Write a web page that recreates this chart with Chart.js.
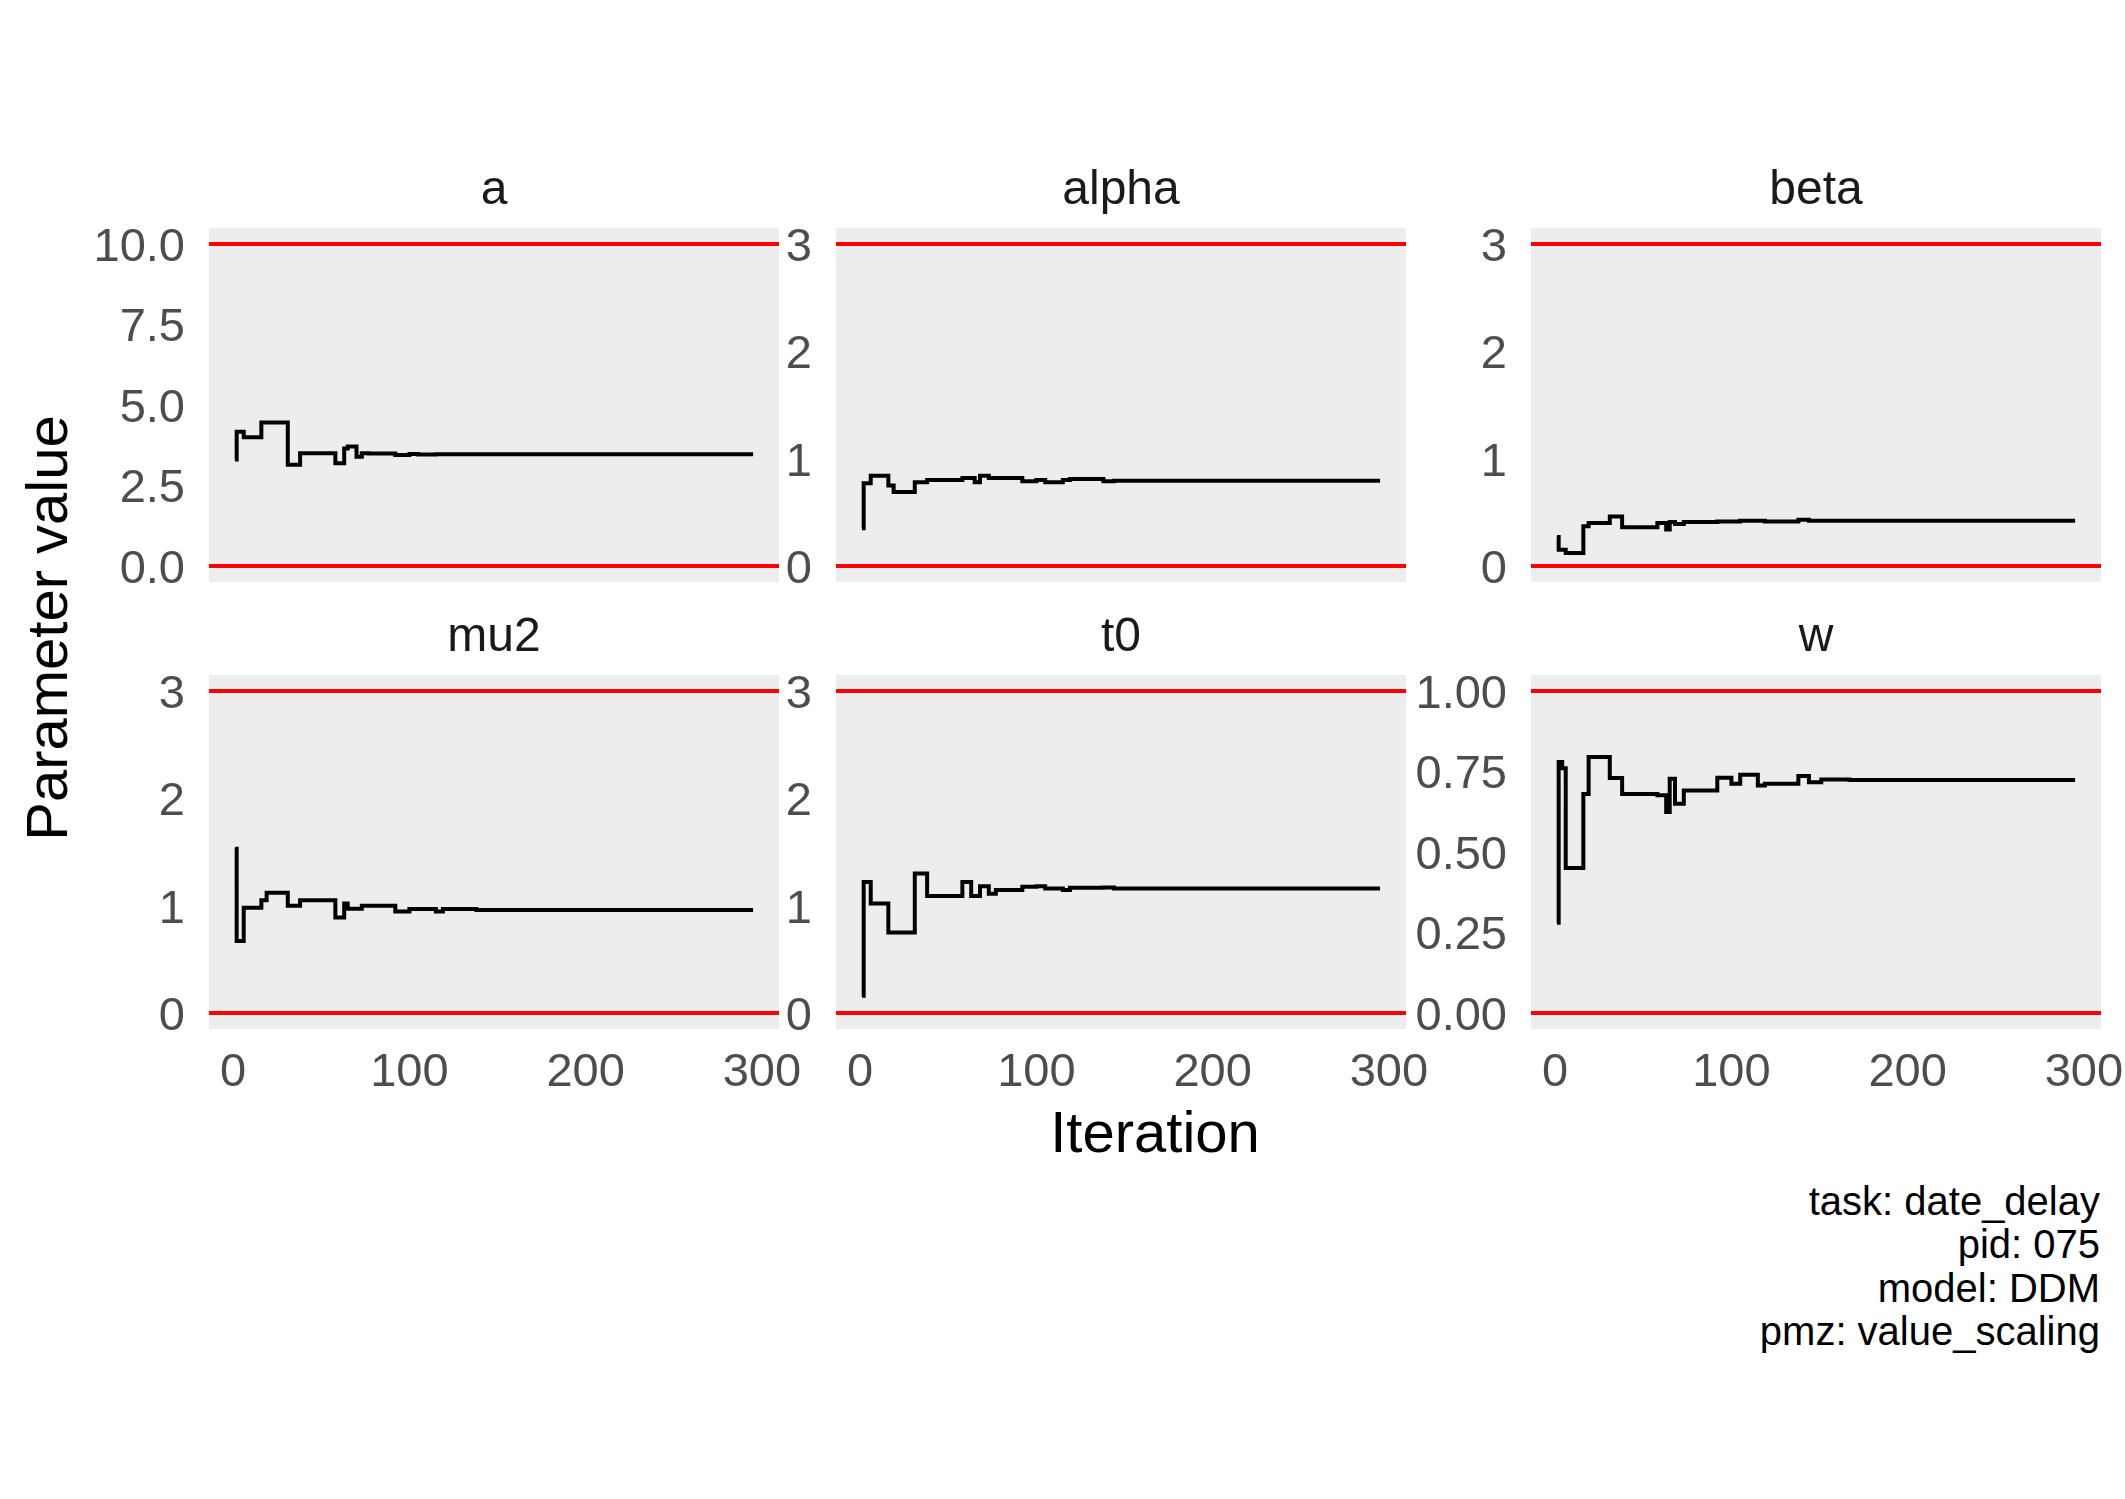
<!DOCTYPE html>
<html>
<head>
<meta charset="utf-8">
<script src="https://cdn.jsdelivr.net/npm/chart.js@4.4.1/dist/chart.umd.min.js"></script>
<style>
  html, body { margin: 0; padding: 0; background: #fff; }
  body { width: 2125px; height: 1499px; position: relative; overflow: hidden; font-family: 'Liberation Sans', Arial, sans-serif; }
  canvas { position: absolute; }
  .lbl { position: absolute; color: #000; white-space: nowrap; }
  #ylab { left: 47px; top: 628px; font-size: 58px; line-height: 58px; transform: translate(-50%, -50%) rotate(-90deg); }
  #xlab { left: 1155px; top: 1132px; font-size: 58px; line-height: 58px; transform: translate(-50%, -50%); }
  #caption { right: 25px; top: 1180px; font-size: 40px; line-height: 43.3px; text-align: right; white-space: pre; }
</style>
</head>
<body>
<div class="lbl" id="ylab">Parameter value</div>
<div class="lbl" id="xlab">Iteration</div>
<div class="lbl" id="caption">task: date_delay
pid: 075
model: DDM
pmz: value_scaling</div>
<script>
// iterations where the estimates change (value holds until the next one)
const iterations = [1, 2, 4, 6, 16, 19, 31, 38, 58, 63, 65, 68, 70, 73, 77, 92, 100, 105, 115, 119, 138, 144, 151, 167, 295];

const aValues     = [3.31, 4.17, 4.17, 4.00, 4.46, 4.46, 3.14, 3.50, 3.19, 3.65, 3.71, 3.71, 3.39, 3.50, 3.49, 3.45, 3.48, 3.46, 3.47, 3.47, 3.47, 3.47, 3.47, 3.47, 3.47];
const alphaValues = [0.35, 0.77, 0.77, 0.84, 0.75, 0.69, 0.78, 0.80, 0.82, 0.82, 0.78, 0.84, 0.84, 0.82, 0.82, 0.79, 0.80, 0.78, 0.80, 0.81, 0.79, 0.795, 0.795, 0.795, 0.795];
const betaValues  = [0.27, 0.15, 0.15, 0.12, 0.37, 0.40, 0.46, 0.36, 0.40, 0.34, 0.41, 0.39, 0.39, 0.41, 0.41, 0.415, 0.415, 0.42, 0.42, 0.415, 0.43, 0.42, 0.42, 0.42, 0.42];
const mu2Values   = [1.53, 0.67, 0.67, 0.98, 1.05, 1.12, 1.00, 1.05, 0.89, 1.02, 0.97, 0.97, 0.97, 1.00, 1.00, 0.946, 0.968, 0.968, 0.946, 0.968, 0.96, 0.959, 0.959, 0.959, 0.959];
const t0Values    = [0.16, 1.22, 1.22, 1.02, 0.75, 0.75, 1.30, 1.09, 1.22, 1.09, 1.09, 1.18, 1.18, 1.11, 1.145, 1.175, 1.18, 1.16, 1.145, 1.166, 1.17, 1.16, 1.16, 1.16, 1.16];
const wValues     = [0.28, 0.78, 0.76, 0.45, 0.68, 0.795, 0.73, 0.68, 0.676, 0.624, 0.728, 0.65, 0.65, 0.691, 0.691, 0.731, 0.712, 0.74, 0.707, 0.712, 0.736, 0.717, 0.725, 0.724, 0.724];

const paramNames  = ['a', 'alpha', 'beta', 'mu2', 't0', 'w'];
const paramValues = [aValues, alphaValues, betaValues, mu2Values, t0Values, wValues];
const upperBounds = [10, 3, 3, 3, 3, 1];

const xTicks = [0, 100, 200, 300];
const yTicks = [
  [0, 2.5, 5, 7.5, 10],
  [0, 1, 2, 3],
  [0, 1, 2, 3],
  [0, 1, 2, 3],
  [0, 1, 2, 3],
  [0, 0.25, 0.5, 0.75, 1]
];
const yDecimals = [1, 0, 0, 0, 0, 2];

// layout
const PANEL_LEFT = [209, 836, 1531];
const PANEL_TOP = [228, 675];
const PANEL_W = 570, PANEL_H = 354;
const AXIS_W = 130, TITLE_H = 75, XAXIS_H = 100, RIGHT_PAD = 50, BOTTOM_PAD = 70;

Chart.defaults.font.family = "'Liberation Sans', Arial, sans-serif";

const xSpan = iterations[iterations.length - 1] - iterations[0];
const xMin = iterations[0] - 0.05 * xSpan;
const xMax = iterations[iterations.length - 1] + 0.05 * xSpan;

const panelBg = {
  id: 'panelBg',
  beforeDraw(chart) {
    const { ctx, chartArea: a } = chart;
    ctx.save();
    ctx.fillStyle = '#ededed';
    ctx.fillRect(a.left, a.top, a.right - a.left, a.bottom - a.top);
    ctx.restore();
  }
};

function makePanel(i) {
  const col = i % 3, row = Math.floor(i / 3);
  const bottomRow = row === 1;
  const ub = upperBounds[i];
  const w = AXIS_W + PANEL_W + RIGHT_PAD;
  const h = TITLE_H + PANEL_H + (bottomRow ? XAXIS_H : BOTTOM_PAD);

  const canvas = document.createElement('canvas');
  canvas.width = w;
  canvas.height = h;
  canvas.style.width = w + 'px';
  canvas.style.height = h + 'px';
  canvas.style.left = (PANEL_LEFT[col] - AXIS_W) + 'px';
  canvas.style.top = (PANEL_TOP[row] - TITLE_H) + 'px';
  document.body.appendChild(canvas);

  const hline = (y) => ({
    data: [{ x: xMin, y: y }, { x: xMax, y: y }],
    borderColor: '#ff0000',
    borderWidth: 4,
    pointRadius: 0
  });

  const xScale = {
    type: 'linear',
    min: xMin,
    max: xMax,
    display: bottomRow,
    grid: { display: false, drawTicks: false },
    border: { display: false },
    ticks: { font: { size: 47 }, color: '#4d4d4d', padding: 16, maxRotation: 0, autoSkip: false },
    afterBuildTicks: (s) => { s.ticks = xTicks.map(v => ({ value: v })); }
  };
  if (bottomRow) xScale.afterFit = (s) => { s.height = XAXIS_H; };

  new Chart(canvas.getContext('2d'), {
    type: 'line',
    data: {
      datasets: [
        hline(0),
        hline(ub),
        {
          data: iterations.map((it, k) => ({ x: it, y: paramValues[i][k] })),
          borderColor: '#000000',
          borderWidth: 4,
          stepped: true,
          pointRadius: 0
        }
      ]
    },
    options: {
      responsive: false,
      animation: false,
      devicePixelRatio: 1,
      layout: { padding: { left: 0, top: 0, right: RIGHT_PAD, bottom: bottomRow ? 0 : BOTTOM_PAD } },
      plugins: {
        legend: { display: false },
        tooltip: { enabled: false },
        title: {
          display: true,
          fullSize: false,
          text: paramNames[i],
          color: '#1a1a1a',
          font: { size: 48, weight: 'normal', lineHeight: 1.25 },
          padding: { top: 8, bottom: 7 }
        }
      },
      scales: {
        x: xScale,
        y: {
          type: 'linear',
          min: -0.05 * ub,
          max: 1.05 * ub,
          grid: { display: false, drawTicks: false },
          border: { display: false },
          ticks: {
            font: { size: 47 },
            color: '#4d4d4d',
            padding: 24,
            labelOffset: 4,
            callback: (v) => Number(v).toFixed(yDecimals[i])
          },
          afterBuildTicks: (s) => { s.ticks = yTicks[i].map(v => ({ value: v })); },
          afterFit: (s) => { s.width = AXIS_W; }
        }
      }
    },
    plugins: [panelBg]
  });
}

for (let i = 0; i < paramNames.length; i++) makePanel(i);
</script>
</body>
</html>
